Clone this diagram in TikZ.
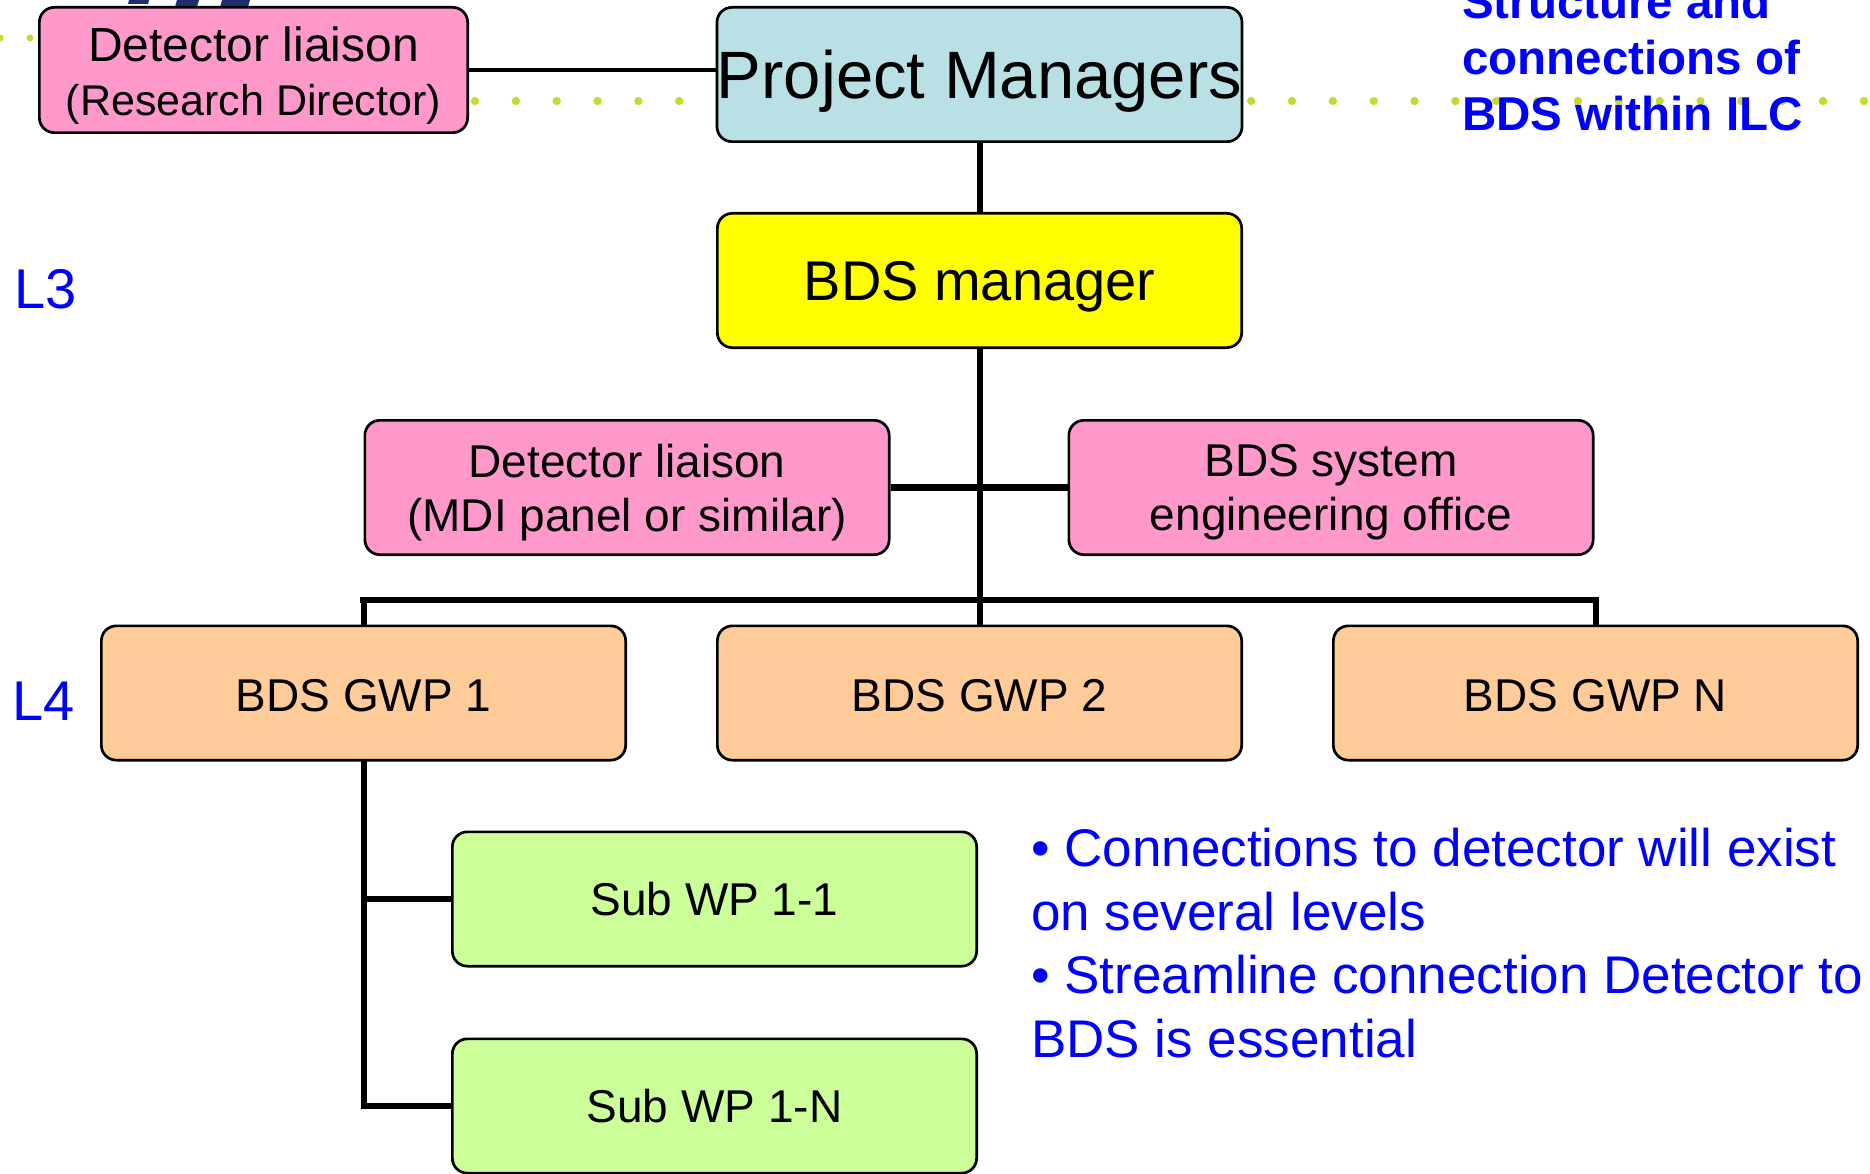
\documentclass[tikz,border=0pt]{standalone}
\usepackage{fontspec}
\setmainfont{Liberation Sans}
\usetikzlibrary{positioning}
\definecolor{boxpink}{RGB}{255,153,204}
\definecolor{pmblue}{RGB}{185,224,228}
\definecolor{bdsyellow}{RGB}{255,255,0}
\definecolor{gwporange}{RGB}{255,204,153}
\definecolor{subgreen}{RGB}{204,255,153}
\definecolor{textblue}{RGB}{0,0,255}
\definecolor{dotgreen}{RGB}{200,216,55}
\definecolor{logonavy}{RGB}{31,48,112}
\tikzset{
  orgbox/.style={rectangle,rounded corners=15pt,draw=black,line width=2.7pt,
                 minimum width=524.3pt,minimum height=134.3pt,align=center,
                 inner sep=0pt,font=\fontsize{46}{54}\selectfont},
  pinkbox/.style={orgbox,fill=boxpink,text depth=0pt},
  pmbox/.style={orgbox,fill=pmblue,text depth=0pt,font=\fontsize{67}{74}\selectfont},
  bdsbox/.style={orgbox,fill=bdsyellow,text depth=0pt,font=\fontsize{56}{64}\selectfont},
  gwpbox/.style={orgbox,fill=gwporange,text height=37pt,text depth=0pt},
  subbox/.style={orgbox,fill=subgreen},
  link/.style={line width=6pt},
  thinlink/.style={line width=4pt},
  buslink/.style={line width=6.5pt},
  lvltext/.style={text=textblue,inner sep=0pt,anchor=west,font=\fontsize{56}{64}\selectfont},
  notetext/.style={text=textblue,inner sep=0pt,anchor=north west,align=left,
                   font=\fontsize{53}{63.5}\selectfont},
  titletext/.style={text=textblue,inner sep=0pt,anchor=north west,align=left,
                    font=\bfseries\fontsize{47.5}{56}\selectfont}
}

\begin{document}
\begin{tikzpicture}[x=1pt,y=-1pt]
  \useasboundingbox (0,0) rectangle (1870,1174);

  % Background dots and logo
  \foreach \i in {0,...,34}
    \fill[dotgreen] ({475+40.85*\i},101) circle (4.2pt);
  \fill[dotgreen] (0,38) circle (3.5pt);
  \fill[dotgreen] (30,38) circle (3.5pt);
  \fill[logonavy] (129,0) -- (149,0) -- (148,4) -- (128,4) -- cycle;
  \fill[logonavy] (177,0) -- (199,0) -- (196,10) -- (174,10) -- cycle;
  \fill[logonavy] (222,0) -- (250,0) -- (247,10) -- (219,10) -- cycle;

  \node[titletext] (title) at (1462,-16.5) {Structure and\\connections of\\BDS within ILC};

  \node[pmbox] (pm) at (979.5,74.5) {Project Managers};
  \node[bdsbox, below=69pt of pm] (bdsm) {BDS manager};
  \node[pinkbox, minimum width=428.3pt, minimum height=125.3pt, text height=91pt] (dlrd) at (253.5,70)
    {\fontsize{48}{55}\selectfont Detector liaison\\\fontsize{43}{55}\selectfont (Research Director)};
  \node[pinkbox] (mdi) at (627,487.5) {Detector liaison\\(MDI panel or similar)};
  \node[pinkbox] (seo) at (1331,487.5) {BDS system\\engineering office};
  \node[gwpbox] (gwp2) at (979.5,693) {BDS GWP 2};
  \node[gwpbox, left=89pt of gwp2] (gwp1) {BDS GWP 1};
  \node[gwpbox, right=89pt of gwp2] (gwpN) {BDS GWP N};
  \node[subbox] (sub11) at (714.5,899) {Sub WP 1-1};
  \node[subbox, below=70pt of sub11] (sub1N) {Sub WP 1-N};

  \node[lvltext] (l3) at (14,289) {L3};
  \node[lvltext] (l4) at (12,701) {L4};

  \node[notetext] (notes) at (1031,828)
    {• Connections to detector will exist\\on several levels\\%
     • Streamline connection Detector to\\BDS is essential};

  % Connectors
  \coordinate (bus) at (979.5,600);
  \draw[thinlink] (dlrd.east) -- (dlrd.east -| pm.west);
  \draw[link] (pm) -- (bdsm);
  \draw[link] (bdsm.south) -- (gwp2.north);
  \draw[buslink] (mdi.east) -- (seo.west);
  \draw[link] (gwp1.north) -- (gwp1.north |- bus);
  \draw[link] (gwpN.north) -- (gwpN.north |- bus);
  \draw[buslink, line cap=rect] (gwp1.north |- bus) -- (gwpN.north |- bus);
  \draw[link, line cap=rect] (gwp1.south) -- (gwp1.south |- sub1N.west);
  \draw[buslink] (gwp1.south |- sub11.west) -- (sub11.west);
  \draw[buslink] (gwp1.south |- sub1N.west) -- (sub1N.west);
\end{tikzpicture}
\end{document}
